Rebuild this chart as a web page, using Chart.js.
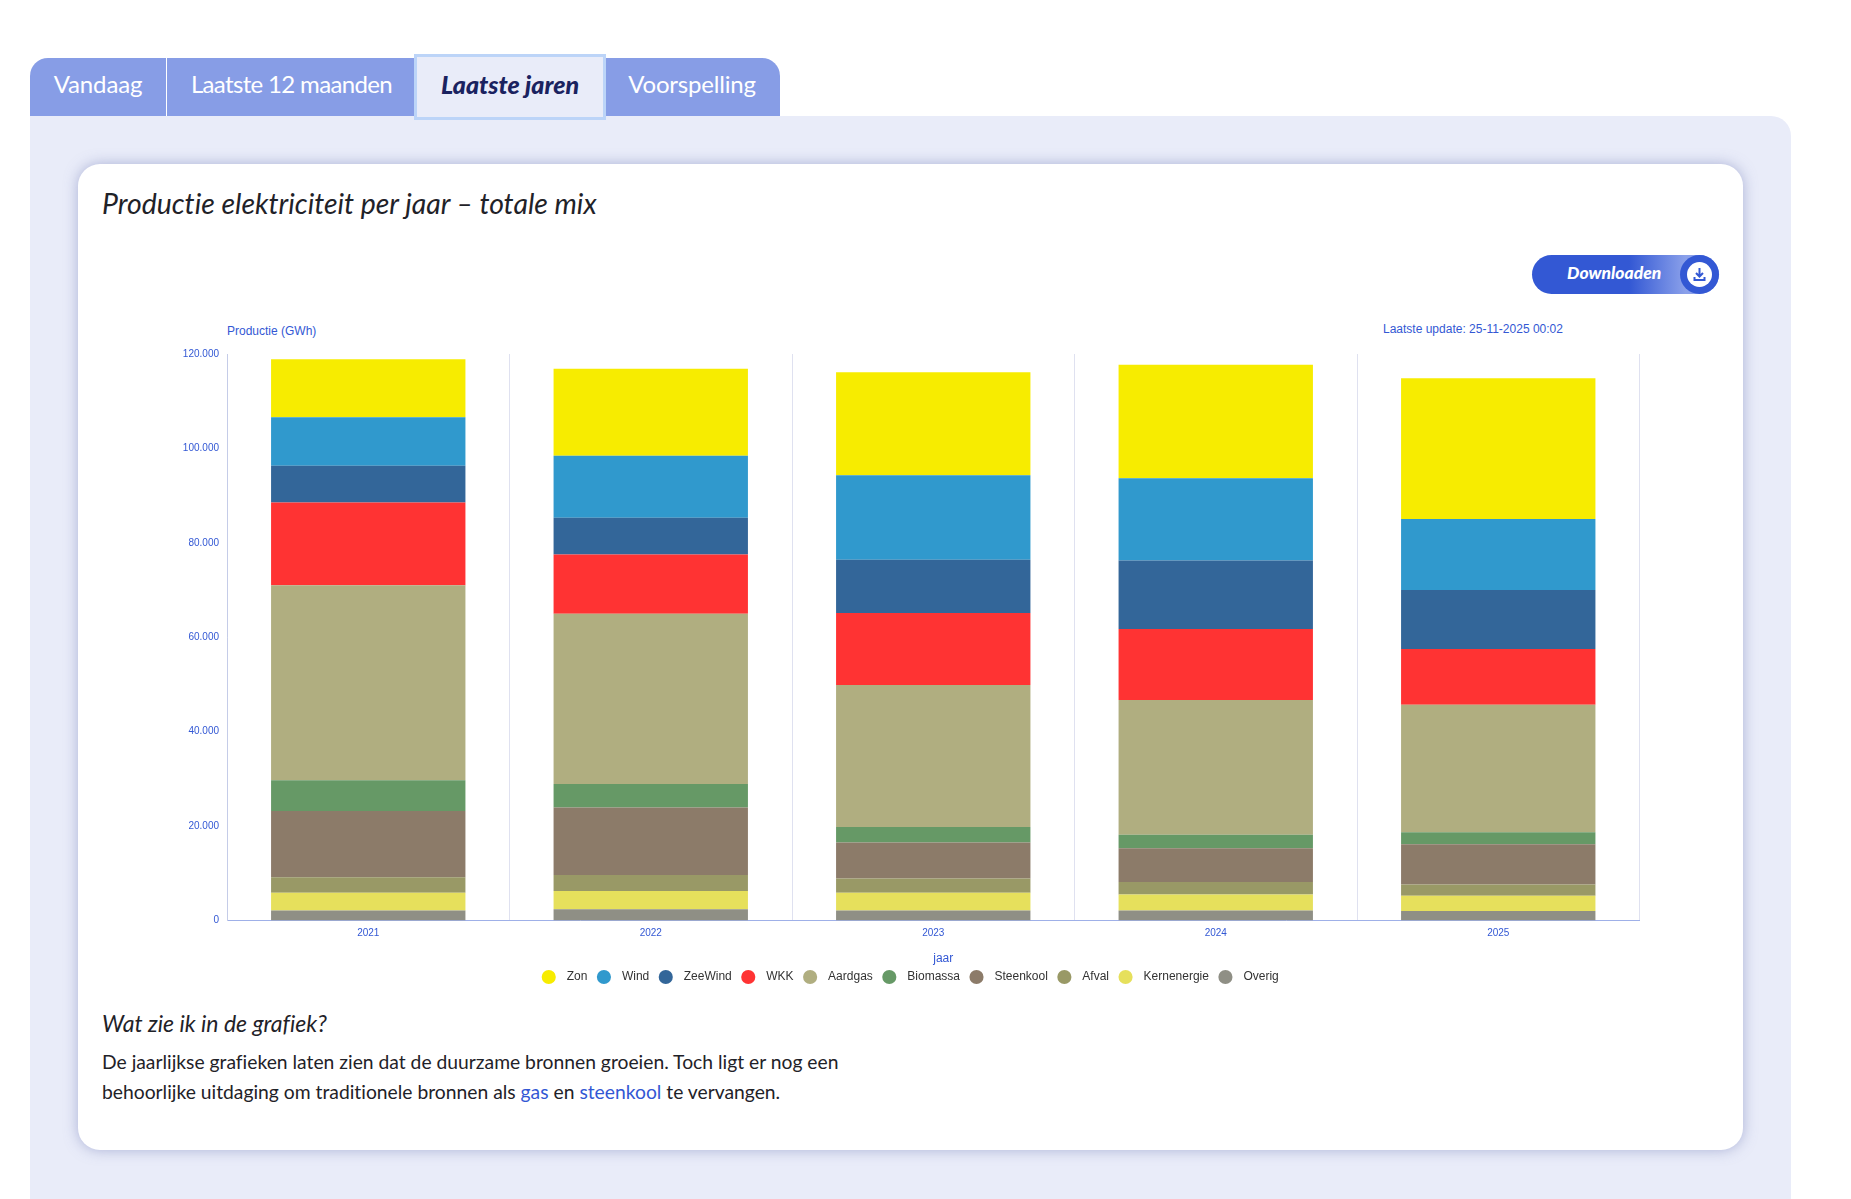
<!DOCTYPE html>
<html lang="nl">
<head>
<meta charset="utf-8">
<title>Productie elektriciteit per jaar</title>
<script src="https://cdn.jsdelivr.net/npm/chart.js@4"></script>
<style>
  html, body { margin: 0; padding: 0; background: #fff; }
  body { width: 1851px; height: 1199px; overflow: hidden; position: relative; font-family: Lato, sans-serif; font-variant-ligatures: none; color: #1f2228; }
  .tab { position: absolute; top: 58px; height: 58px; background: #879de6; color: #fff; font-size: 24px; line-height: 52px; text-align: center; box-sizing: border-box; }
  #t1 { left: 30px; width: 136px; border-top-left-radius: 18px; letter-spacing: -0.15px; }
  #t2 { left: 167px; width: 249px; letter-spacing: -0.65px; }
  #t3 { left: 416px; width: 188px; top: 56px; height: 62px; background: #e9ecf9; color: #1a2260; font-size: 25px; font-weight: 900; font-style: italic; line-height: 56px; outline: 3px solid #bcd4f8; outline-offset: -1px; z-index: 3; }
  #t4 { left: 604px; width: 176px; border-top-right-radius: 18px; letter-spacing: -0.2px; }
  #panel { position: absolute; left: 30px; top: 116px; width: 1761px; height: 1083px; background: #e9ecf9; border-top-right-radius: 20px; }
  #card { position: absolute; left: 78px; top: 164px; width: 1665px; height: 986px; background: #fff; border-radius: 22px; box-shadow: 0 0 14px rgba(110,120,180,.5); }
  h1 { position: absolute; left: 102px; top: 184px; margin: 0; font-size: 28.4px; line-height: 38px; font-weight: 400; font-style: italic; white-space: nowrap; }
  #download { position: absolute; left: 1532px; top: 255px; width: 187px; height: 39px; border-radius: 20px; background: linear-gradient(to right, #3358d4 52%, #8aa0ea 82%); color: #fff; font-size: 17.5px; font-weight: 900; font-style: italic; line-height: 35px; box-sizing: border-box; padding-left: 35px; }
  #download .ring { position: absolute; right: 0; top: 0; width: 39px; height: 39px; border-radius: 50%; background: #3358d4; }
  #download svg { position: absolute; left: 7px; top: 7px; }
  .lbl { position: absolute; font: 12px "Liberation Sans", Arial, sans-serif; color: #3358d4; white-space: nowrap; line-height: 14px; }
  #chart { position: absolute; left: 182px; top: 340px; }
  h2 { position: absolute; left: 102px; top: 1008px; margin: 0; font-size: 23px; line-height: 30px; font-weight: 400; font-style: italic; white-space: nowrap; }
  p { position: absolute; left: 102px; top: 1047px; margin: 0; font-size: 19.3px; line-height: 30px; white-space: nowrap; }
  a { color: #3358d4; text-decoration: none; }
</style>
</head>
<body>
<div id="panel"></div>
<div class="tab" id="t1">Vandaag</div>
<div class="tab" id="t2">Laatste 12 maanden</div>
<div class="tab" id="t3">Laatste jaren</div>
<div class="tab" id="t4">Voorspelling</div>
<div id="card"></div>
<h1>Productie elektriciteit per jaar – totale mix</h1>
<div id="download">Downloaden<span class="ring"><svg width="25" height="25" viewBox="0 0 25 25"><circle cx="12.5" cy="12.5" r="12.5" fill="#fff"/><path d="M12.5 6v8M9 11l3.5 3.5L16 11M7.5 15v3h10v-3" fill="none" stroke="#3358d4" stroke-width="2"/></svg></span></div>
<div class="lbl" style="left:227px;top:324px">Productie (GWh)</div>
<div class="lbl" style="left:1383px;top:322px">Laatste update: 25-11-2025 00:02</div>
<canvas id="chart" width="1518" height="653"></canvas>
<h2>Wat zie ik in de grafiek?</h2>
<p>De jaarlijkse grafieken laten zien dat de duurzame bronnen groeien. Toch ligt er nog een<br>behoorlijke uitdaging om traditionele bronnen als <a href="#">gas</a> en <a href="#">steenkool</a> te vervangen.</p>

<script>
// DATA
const years = ['2021', '2022', '2023', '2024', '2025'];
const zon = [12270, 18410, 21790, 24050, 29810];
const wind = [10270, 13150, 17910, 17410, 15030];
const zeeWind = [7770, 7770, 11270, 14530, 12530];
const wkk = [17540, 12530, 15280, 15030, 11770];
const aardgas = [41330, 36070, 30060, 28560, 27050];
const biomassa = [6510, 5010, 3260, 2880, 2510];
const steenkool = [14030, 14280, 7640, 7140, 8520];
const afval = [3260, 3380, 3010, 2630, 2380];
const kernenergie = [3760, 3880, 3760, 3380, 3260];
const overig = [2130, 2380, 2130, 2130, 2000];

const blue = '#3358d4';

function serie(label, data, color) {
  return { label: label, data: data, backgroundColor: color, borderWidth: 0 };
}

// SETUP - first dataset is the bottom of the stack
const data = {
  labels: years,
  datasets: [
    serie('Overig', overig, '#8f8f85'),
    serie('Kernenergie', kernenergie, '#e6e05c'),
    serie('Afval', afval, '#999966'),
    serie('Steenkool', steenkool, '#8c7b69'),
    serie('Biomassa', biomassa, '#669966'),
    serie('Aardgas', aardgas, '#b0ae80'),
    serie('WKK', wkk, '#ff3333'),
    serie('ZeeWind', zeeWind, '#336699'),
    serie('Wind', wind, '#3099cd'),
    serie('Zon', zon, '#f7ec00')
  ]
};

// CONFIG
const config = {
  type: 'bar',
  data,
  options: {
    responsive: false,
    animation: false,
    devicePixelRatio: 1,
    font: { family: '"Liberation Sans", Arial, sans-serif' },
    layout: { padding: { top: 14, right: 60.5 } },
    datasets: { bar: { categoryPercentage: 1, barPercentage: 0.688 } },
    scales: {
      x: {
        stacked: true,
        afterFit(s) { s.height = 40; },
        border: { color: '#9fb0e8', width: 1 },
        grid: { color: '#dfe1f0', drawTicks: false, offset: true },
        ticks: { color: blue, padding: 7, font: { size: 10 } },
        title: { display: true, text: '      jaar', color: blue, font: { size: 12 }, padding: { top: 0, bottom: -5 } }
      },
      y: {
        stacked: true,
        min: 0,
        max: 120000,
        afterFit(s) { s.width = 45; },
        border: { color: '#c5cce8', width: 1 },
        grid: { display: false, drawTicks: false },
        ticks: {
          color: blue,
          padding: 8,
          stepSize: 20000,
          font: { size: 10 },
          callback: v => String(v).replace(/\B(?=(\d{3})+$)/g, '.')
        }
      }
    },
    plugins: {
      tooltip: { enabled: false },
      legend: {
        position: 'bottom',
        reverse: true,
        labels: {
          usePointStyle: true,
          pointStyle: 'circle',
          boxHeight: 10,
          padding: 10.5,
          color: '#333',
          font: { size: 12 },
          generateLabels(chart) {
            return Chart.defaults.plugins.legend.labels.generateLabels(chart).map(item => {
              item.text = '\u2002' + item.text;
              return item;
            });
          }
        }
      }
    }
  }
};

// RENDER
let myChart = new Chart(document.getElementById('chart'), config);
</script>
</body>
</html>
